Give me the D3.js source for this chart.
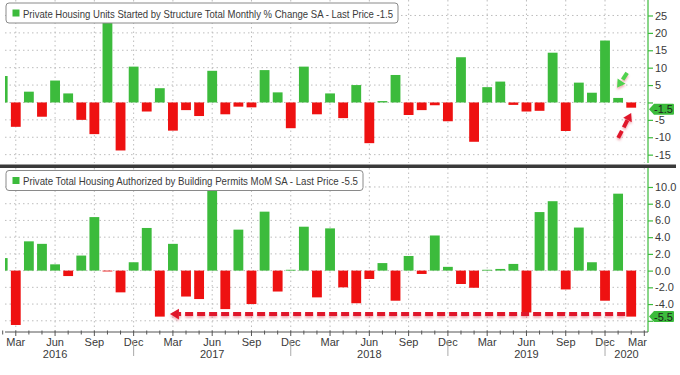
<!DOCTYPE html>
<html>
<head>
<meta charset="utf-8">
<script src="https://cdn.jsdelivr.net/npm/d3@7"></script>
<style>
  body { margin: 0; background: #fff; }
  svg { display: block; font-family: "Liberation Sans Narrow", "Arial Narrow", "Liberation Sans", sans-serif; }
</style>
</head>
<body>
<div class="chart"></div>
<script>
// months Feb 2016 .. Mar 2020 (last slot empty, like the axis)
const months = d3.timeMonth.range(new Date(2016, 1, 1), new Date(2020, 3, 1));

// housing starts, monthly % change
const startsChg = [
  7.6, -7.0, 3.1, -4.1, 6.3, 2.6, -5.0, -9.1, 25.5, -13.8, 10.3,
  -2.6, 4.1, -8.1, -2.2, -3.9, 9.1, -3.4, -1.2, -1.4, 9.3, 2.9, -7.4,
  10.3, -3.4, 2.6, -4.5, 5.0, -11.7, 0.4, 7.9, -3.6, -2.2, -0.8, -5.4,
  13.0, -11.3, 4.4, 6.0, -0.7, -2.6, -2.4, 14.3, -8.2, 5.7, 2.8, 17.8,
  1.3, -1.5
];

// building permits, MoM %
const permitsChg = [
  1.5, -6.5, 3.5, 3.2, 0.75, -0.65, 1.8, 6.4, -0.1, -2.6, 1.0,
  5.1, -5.5, 3.2, -3.1, -3.4, 9.9, -4.6, 4.9, -4.0, 7.05, -2.5, 0.1,
  5.25, -3.2, 5.05, -2.0, -3.9, -1.0, 0.9, -3.6, 1.75, -0.4, 4.2, 0.45,
  -1.6, -2.05, 0.1, 0.2, 0.8, -5.0, 7.0, 8.3, -2.25, 5.15, 1.0, -3.6,
  9.2, -5.5
];

const topTicks = [-15, -10, -5, 0, 5, 10, 15, 20, 25];
const botTicks = [-6, -4, -2, 0, 2, 4, 6, 8, 10];
const years = [2016, 2017, 2018, 2019, 2020];
const topTitle = "Private Housing Units Started by Structure Total Monthly % Change SA - Last Price -1.5";
const botTitle = "Private Total Housing Authorized by Building Permits MoM SA - Last Price -5.5";
const topLast = -1.5, botLast = -5.5;

const width = 680, height = 375;
const plotL = 5, plotR = 648;
const green = "#3cbb3c", red = "#ee1111", grid = "#bdbdbd", txt = "#3a3a3a";

const svg = d3.select('.chart').append('svg')
  .attr('width', width).attr('height', height);

const x = d3.scalePoint().domain(months).range([2.7, 644.3]);
const barW = x.step() * 0.75;

const yTop = d3.scaleLinear().domain([-17.4, 29.45]).range([163, 0]);
const yBot = d3.scaleLinear().domain([-7.34, 12.27]).range([332, 168]);

svg.append("defs").append("clipPath").attr("id", "clip")
  .append("rect").attr("x", plotL).attr("y", 0).attr("width", plotR - plotL).attr("height", 332);

const shadow = svg.select("defs").append("filter").attr("id", "shadow")
  .attr("x", "-10%").attr("y", "-100%").attr("width", "120%").attr("height", "400%");
shadow.append("feDropShadow").attr("dx", 0).attr("dy", 2).attr("stdDeviation", 1.2)
  .attr("flood-color", "#e05060").attr("flood-opacity", 0.45);

const quarter = d => [2, 5, 8, 11].includes(d.getMonth());
const fmtMonth = d3.timeFormat("%b");

function panel(y, values, ticks, fmt, y0, y1, lastVal) {
  const g = svg.append("g");

  // horizontal grid
  g.selectAll(".hg").data(ticks).enter().append("line")
    .attr("x1", plotL).attr("x2", plotR)
    .attr("y1", d => y(d)).attr("y2", d => y(d))
    .attr("stroke", grid).attr("stroke-dasharray", "1.5,3");

  // vertical grid at quarters
  g.selectAll(".vg").data(months.filter(quarter)).enter().append("line")
    .attr("x1", d => x(d)).attr("x2", d => x(d))
    .attr("y1", y0).attr("y2", y1)
    .attr("stroke", grid).attr("stroke-dasharray", "1.5,3");

  // bars
  g.append("g").attr("clip-path", "url(#clip)")
    .selectAll("rect").data(values).enter().append("rect")
    .attr("x", (d, i) => x(months[i]) - barW / 2)
    .attr("width", barW)
    .attr("y", d => y(Math.max(0, d)))
    .attr("height", d => Math.max(0.8, Math.abs(y(d) - y(0))))
    .attr("fill", d => d >= 0 ? green : red);

  // right axis; labels hidden where the last-value tag sits on them
  const ax = g.append("g").attr("transform", `translate(${plotR},0)`)
    .call(d3.axisRight(y).tickValues(ticks).tickSize(5).tickPadding(2)
      .tickFormat(d => Math.abs(y(d) - y(lastVal)) < 9 ? "" : fmt(d).replace("\u2212", "-")));
  ax.select(".domain").remove();
  ax.append("line").attr("y1", y0).attr("y2", y1).attr("stroke", green).attr("stroke-width", 1.2);
  ax.selectAll(".tick line").attr("stroke", green).attr("stroke-width", 1.2);
  ax.selectAll(".tick text").attr("fill", txt).attr("font-size", 11)
    .attr("font-family", "Liberation Sans Narrow, Arial Narrow, Liberation Sans, sans-serif");
  return g;
}

panel(yTop, startsChg, topTicks, d3.format("d"), 0, 163, topLast);
panel(yBot, permitsChg, botTicks, d3.format(".1f"), 168, 332, botLast);

// panel divider
svg.append("rect").attr("x", 0).attr("y", 164.5).attr("width", 676).attr("height", 3.5).attr("fill", "#3a3a3a");

// legends
function legend(y, w, label, tw) {
  const g = svg.append("g").attr("transform", `translate(6,${y})`);
  g.append("rect").attr("width", w).attr("height", 20).attr("rx", 3)
    .attr("fill", "#fff").attr("stroke", "#8a8a8a").attr("stroke-width", 1);
  g.append("rect").attr("x", 6.5).attr("y", 6.5).attr("width", 7).attr("height", 7).attr("fill", green);
  g.append("text").attr("x", 17).attr("y", 14.5).attr("font-size", 11.5).attr("fill", txt)
    .attr("textLength", tw).attr("lengthAdjust", "spacingAndGlyphs").text(label);
}
legend(3, 392, topTitle, 370);
legend(170.5, 357, botTitle, 335);

// last value tags
function tag(yv, label) {
  const g = svg.append("g").attr("transform", `translate(${plotR + 1},${yv})`);
  g.append("path").attr("d", "M0,0 L5,-5.5 L24,-5.5 Q25,-5.5 25,-4.5 L25,4.5 Q25,5.5 24,5.5 L5,5.5 Z")
    .attr("fill", green);
  g.append("text").attr("x", 14.5).attr("y", 4).attr("text-anchor", "middle")
    .attr("font-size", 11).attr("fill", "#1d1d1d").text(label);
}
tag(yTop(topLast) + 1.5, topLast.toFixed(1));
tag(yBot(botLast), botLast.toFixed(1));

// x axis at the bottom
const xa = svg.append("g").attr("transform", "translate(0,332)");
xa.append("line").attr("x1", plotL).attr("x2", plotR).attr("stroke", "#555");
xa.selectAll(".mt").data(months).enter().append("line")
  .attr("x1", d => x(d)).attr("x2", d => x(d))
  .attr("y1", -1.5).attr("y2", d => quarter(d) ? 4 : 2.5)
  .attr("stroke", "#555");
const last = months[months.length - 1];
xa.selectAll(".ml").data(months.filter(quarter)).enter().append("text")
  .attr("x", d => d === last ? plotR - 1 : x(d))
  .attr("y", 14)
  .attr("text-anchor", d => d === last ? "end" : "middle")
  .attr("font-size", 11).attr("fill", txt)
  .text(d => fmtMonth(d));

// year separators under each December
xa.selectAll(".ys").data(months.filter(d => d.getMonth() === 11)).enter().append("line")
  .attr("x1", d => x(d)).attr("x2", d => x(d))
  .attr("y1", 8).attr("y2", 24)
  .attr("stroke", "#aaa");

const decLast = months.filter(d => d.getMonth() === 11).pop();
xa.selectAll(".yl").data(years).enter().append("text")
  .attr("x", d => d === 2020 ? (x(decLast) + plotR) / 2 : x(new Date(d, 5, 1)))
  .attr("y", 26)
  .attr("text-anchor", "middle")
  .attr("font-size", 11).attr("fill", txt)
  .text(d => d);

// annotation arrows
function arrow(g, x1, y1, x2, y2, color, head) {
  const a = Math.atan2(y2 - y1, x2 - x1);
  const bx = x2 - head * Math.cos(a), by = y2 - head * Math.sin(a);
  g.append("line").attr("x1", x1).attr("y1", y1).attr("x2", bx).attr("y2", by)
    .attr("stroke", color).attr("stroke-width", 4).attr("stroke-dasharray", "8,4");
  const w = head * 0.6;
  const pts = [[x2, y2],
    [bx + w * Math.sin(a), by - w * Math.cos(a)],
    [bx - w * Math.sin(a), by + w * Math.cos(a)]];
  g.append("polygon").attr("points", pts.map(p => p.join(",")).join(" ")).attr("fill", color);
}

const jan20 = months[months.length - 3], feb20 = months[months.length - 2];
const ann = svg.append("g").attr("filter", "url(#shadow)");
arrow(ann, x(jan20) + 9, yTop(8.5), x(jan20) - 1, yTop(4.2), "#4fd24f", 8);
arrow(ann, x(feb20) - 13, yTop(-10.2), x(feb20), yTop(-3.0), "#e0182c", 8);
arrow(ann, x(jan20) + 7, yBot(-5.2), x(new Date(2017, 2, 1)) - 3, yBot(-5.2), "#e0182c", 9);
</script>
</body>
</html>
